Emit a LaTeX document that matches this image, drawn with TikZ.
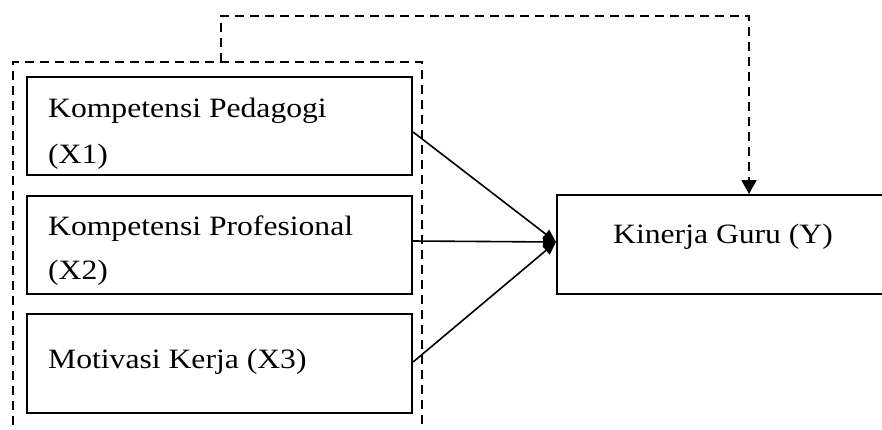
\documentclass[tikz,border=0pt]{standalone}
\usepackage{fontspec}
\setmainfont{Liberation Serif}
\usetikzlibrary{arrows.meta,calc}
\newcommand{\wtxt}[1]{\scalebox{1.13}[1]{#1}}
\begin{document}
\begin{tikzpicture}[x=1pt,y=-1pt,
  box/.style={draw,line width=2.1pt,rectangle,inner sep=0pt,anchor=north west},
  lbl/.style={anchor=base west,inner sep=0pt,font=\fontsize{28}{46}\selectfont},
  conn/.style={line width=1.6pt,-{Triangle[length=13pt,width=11pt]}},
  dsh/.style={line width=1.8pt,dash pattern=on 9pt off 6pt}]
\useasboundingbox (0,0) rectangle (882,429);
\clip (0,0) rectangle (882,429);
% boxes
\node[box,minimum width=385pt,minimum height=98pt] (b1) at (26,76) {};
\node[box,minimum width=385pt,minimum height=98pt] (b2) at (26,195) {};
\node[box,minimum width=385pt,minimum height=99pt] (b3) at (26,313) {};
\node[box,minimum width=360pt,minimum height=99pt] (y) at (556,194) {};
% texts
\node[lbl] (t1a) at (48,117) {\wtxt{Kompetensi Pedagogi}};
\node[lbl] (t1b) at (48,163) {\wtxt{(X1)}};
\node[lbl] (t2a) at (48,235) {\wtxt{Kompetensi Profesional}};
\node[lbl] (t2b) at (48,279) {\wtxt{(X2)}};
\node[lbl] (t3) at (48,368) {\wtxt{Motivasi Kerja (X3)}};
\node[lbl] (ty) at (613,243) {\wtxt{Kinerja Guru (Y)}};
% dashed group
\coordinate (g1) at (13,440);
\coordinate (g2) at (13,62);
\coordinate (g3) at (422,62);
\coordinate (g4) at (422,440);
\draw[dsh] (g1) -- (g2) -- (g3) -- (g4);
% top dashed connector
\coordinate (s) at (221,62);
\coordinate (c1) at (221,16);
\coordinate (c2) at (749,16);
\draw[dsh,-{Triangle[length=14pt,width=15pt]}] (s) -- (c1) -- (c2) -- (c2 |- y.north);
% arrows
\coordinate (m) at (556,242);
\draw[conn] ($(b1.north east)+(0,56)$) -- (m);
\draw[conn] ($(b2.north east)+(0,46)$) -- (m);
\draw[conn] ($(b3.north east)+(0,49)$) -- (m);
\end{tikzpicture}
\end{document}
